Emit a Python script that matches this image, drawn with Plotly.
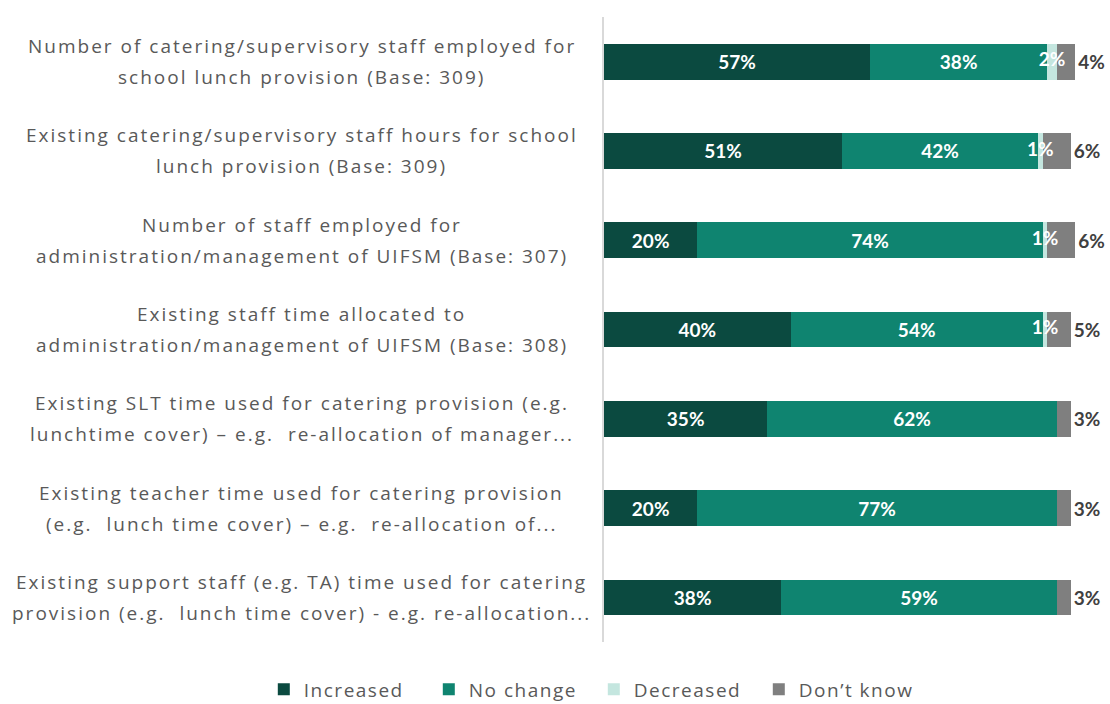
import plotly.graph_objects as go

categories = [
    "Number of catering/supervisory staff employed for<br>school lunch provision (Base: 309)",
    "Existing catering/supervisory staff hours for school<br>lunch provision (Base: 309)",
    "Number of staff employed for<br>administration/management of UIFSM (Base: 307)",
    "Existing staff time allocated to<br>administration/management of UIFSM (Base: 308)",
    "Existing SLT time used for catering provision (e.g.<br>lunchtime cover) – e.g.  re-allocation of manager...",
    "Existing teacher time used for catering provision<br>(e.g.  lunch time cover) – e.g.  re-allocation of...",
    "Existing support staff (e.g. TA) time used for catering<br>provision (e.g.  lunch time cover) - e.g. re-allocation...",
]
increased = [57, 51, 20, 40, 35, 20, 38]
no_change = [38, 42, 74, 54, 62, 77, 59]
decreased = [2, 1, 1, 1, 0, 0, 0]
dont_know = [4, 6, 6, 5, 3, 3, 3]

series = [
    ("Increased", increased, "#0b4a40", "inside", "white"),
    ("No change", no_change, "#0f8470", "inside", "white"),
    ("Decreased", decreased, "#c4e6df", "none", "white"),
    ("Don’t know", dont_know, "#7f7f7f", "outside", "#404040"),
]

LABEL_FONT = "'Open Sans', sans-serif"
BAR_FONT = "Lato, sans-serif"
fig = go.Figure()
for name, vals, color, pos, tcolor in series:
    fig.add_trace(go.Bar(
        y=categories, x=vals, name=name, orientation="h",
        marker=dict(color=color, line=dict(width=0)),
        text=[f"<b>{v}%</b>" if v > 0 else "" for v in vals],
        textposition=pos, insidetextanchor="middle", textangle=0,
        textfont=dict(color=tcolor, size=19, family=BAR_FONT),
        cliponaxis=False,
        hoverinfo="x+name",
    ))

# labels for the thin "Decreased" segments drawn on top so they overflow visibly
dec_x = [a + b + c / 2 for a, b, c in zip(increased, no_change, decreased)]
fig.add_trace(go.Scatter(
    x=dec_x, y=categories, mode="text",
    text=[f"<b>{v}%</b>" if v > 0 else "" for v in decreased],
    textposition="middle center",
    textfont=dict(color="white", size=19, family=BAR_FONT),
    showlegend=False, hoverinfo="skip", cliponaxis=False,
))

for c in categories:
    lines = c.split("<br>")
    for i, line in enumerate(lines):
        fig.add_annotation(
            x=-0.6, xref="paper", y=c, yref="y", text=line, showarrow=False,
            xanchor="center", align="center", yshift=15.5 - 31 * i,
            font=dict(size=19, color="#595959", family=LABEL_FONT),
        )

fig.update_layout(
    barmode="stack",
    bargap=0.6,
    width=1110, height=704,
    margin=dict(l=604, r=2, t=17, b=62, autoexpand=False),
    paper_bgcolor="white", plot_bgcolor="white",
    font=dict(family=LABEL_FONT, color="#595959"),
    uniformtext=dict(minsize=19, mode="show"),
    xaxis=dict(range=[0, 108], showgrid=False, zeroline=False,
               showticklabels=False, showline=False, fixedrange=True),
    yaxis=dict(autorange="reversed", showticklabels=False, showgrid=False,
               showline=True, linecolor="#d9d9d9", linewidth=1.5, ticks=""),
    legend=dict(orientation="h", xref="paper", yref="paper",
                x=-0.675, xanchor="left", y=-0.076, yanchor="middle",
                font=dict(size=19, color="#595959", family=LABEL_FONT),
                traceorder="normal", itemwidth=30,
                entrywidth=120, entrywidthmode="pixels"),
    showlegend=True,
)

post = """
document.body.style.margin='0';
document.body.style.padding='0';
var gd=document.getElementById('{plot_id}');
gd.querySelectorAll('.annotation-text').forEach(function(e){e.style.letterSpacing='2px';});
gd.querySelectorAll('.legendtext').forEach(function(e){e.style.letterSpacing='1.5px';});
"""
fig.write_html("out.html", post_script=post, config={"displayModeBar": False})
